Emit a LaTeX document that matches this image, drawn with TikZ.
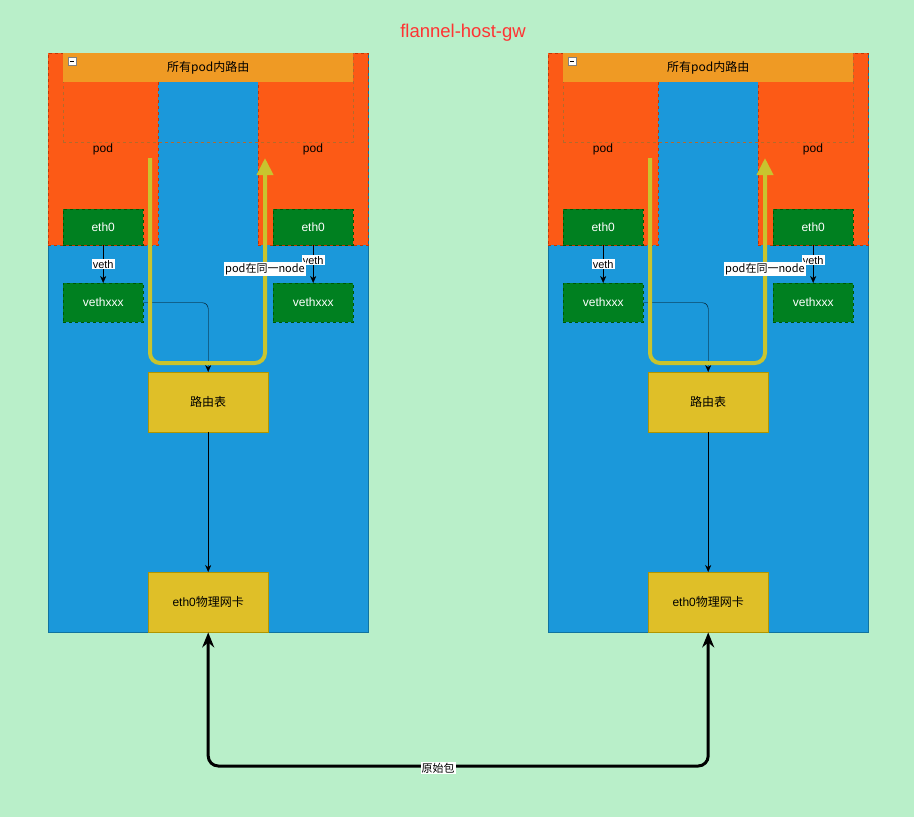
\documentclass[tikz,border=0pt]{standalone}
\usepackage{fontspec}
\setmainfont{Liberation Sans}
\newfontfamily\cjk{Noto Sans CJK SC}
\usetikzlibrary{arrows.meta}

\definecolor{canvas}{HTML}{B9EFC9}
\definecolor{hostblue}{HTML}{1B98DA}
\definecolor{hostline}{HTML}{10739E}
\definecolor{podred}{HTML}{FC5A16}
\definecolor{podline}{HTML}{C73500}
\definecolor{bannerorange}{HTML}{EF9A24}
\definecolor{grpline}{HTML}{B26A2C}
\definecolor{nicgreen}{HTML}{008020}
\definecolor{nicline}{HTML}{005700}
\definecolor{tblyellow}{HTML}{DFBF28}
\definecolor{tblline}{HTML}{B09500}
\definecolor{flow}{HTML}{C9C42E}
\definecolor{titlered}{HTML}{FF3333}

\tikzset{
  box/.style={draw, inner sep=0pt, anchor=north west, text centered},
  hostbox/.style={box, fill=hostblue, draw=hostline, minimum width=320, minimum height=579},
  podbox/.style={box, fill=podred, draw=podline, dashed, minimum width=110, minimum height=192},
  grpbox/.style={box, draw=grpline, dashed, minimum width=290, minimum height=89},
  bannerbox/.style={box, fill=bannerorange, draw=none, minimum width=290, minimum height=29},
  nicbox/.style={box, fill=nicgreen, draw=nicline, dashed, text=white, minimum width=80},
  tblbox/.style={box, fill=tblyellow, draw=tblline, minimum width=120, minimum height=60},
  lbl/.style={fill=white, sharp corners, inner sep=1pt, font=\fontsize{11}{13}\selectfont},
  flowline/.style={draw=flow, line width=4pt, rounded corners=10,
    -{Triangle[width=16pt,length=17pt]}},
  wire/.style={line width=3pt, rounded corners=10,
    {Stealth[length=15pt,width=12pt]}-{Stealth[length=15pt,width=12pt]}}
}

\begin{document}
\begin{tikzpicture}[x=1pt, y=-1pt, >={Stealth[length=7pt,width=6pt]},
    font=\fontsize{12}{14}\selectfont]
    \fill[canvas] (0,0) rectangle (914,817);

    \node[text=titlered, font=\fontsize{18.5}{22}\selectfont] (title) at (463,33) {flannel-host-gw};

    \foreach \h/\x in {a/0,b/500} {
      \begin{scope}[xshift=\x]
        % host with its two pods
        \node[hostbox] (host\h) at (48,53) {};
        \node[podbox] (podL\h) at (48,53) {};
        \node[podbox] (podR\h) at (258,53) {};
        \node (podtxtL\h) at (103,149) {pod};
        \node (podtxtR\h) at (313,149) {pod};

        \node[grpbox] (grp\h) at (63,53) {};
        \node[bannerbox] (route\h) at (63,53) {\cjk 所有pod内路由};
        \node[draw=gray, fill=white, minimum size=8, inner sep=0pt] (fold\h) at (72,61) {};
        \draw ([xshift=2]fold\h.west) -- ([xshift=-2]fold\h.east);

        \node[nicbox, minimum height=36] (ethL\h) at (63,209) {eth0};
        \node[nicbox, minimum height=36] (ethR\h) at (273,209) {eth0};
        \node[nicbox, minimum height=39] (vethL\h) at (63,283) {vethxxx};
        \node[nicbox, minimum height=39] (vethR\h) at (273,283) {vethxxx};

        \node[tblbox] (tbl\h) at (148,372) {\cjk 路由表};
        \node[tblbox] (phy\h) at (148,572) {eth0{\cjk 物理网卡}};

        \path (ethL\h) edge[->] node[lbl] {veth} (vethL\h)
              (ethR\h) edge[->] node[lbl, pos=0.4] {veth} (vethR\h)
              (tbl\h)  edge[->] (phy\h);
        \draw[->, rounded corners=6] (vethL\h.east) -| (tbl\h.north);

        % pods on the same node
        \coordinate (flowA\h) at (150,158);
        \coordinate (flowB\h) at (208,363);
        \coordinate (flowC\h) at (265,158);
        \draw[flowline] (flowA\h) |- (flowB\h) -| node[lbl, pos=0.73] {\cjk pod在同一node} (flowC\h);
      \end{scope}
    }

    \coordinate (pkt) at (460,766);
    \draw[wire] (phya.south) |- (pkt) -| (phyb.south);
    \node[lbl] (pkttxt) at (438,768) {\cjk 原始包};
\end{tikzpicture}
\end{document}
